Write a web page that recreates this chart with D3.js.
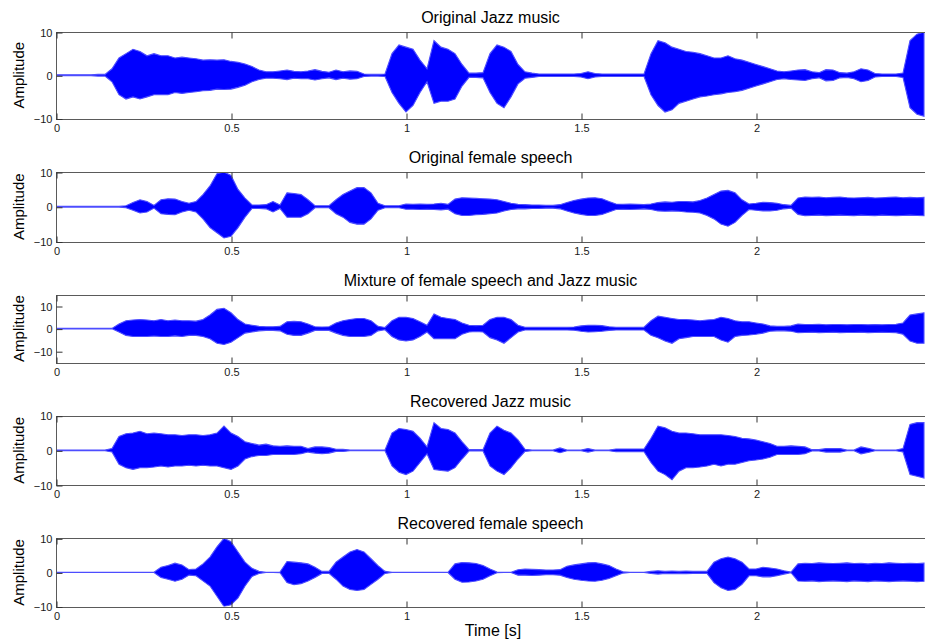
<!DOCTYPE html>
<html>
<head>
<meta charset="utf-8">
<script src="https://cdn.jsdelivr.net/npm/d3@7"></script>
<style>
  html, body { margin: 0; padding: 0; background: #fff; }
  svg { display: block; font-family: Arial, "Liberation Sans", Helvetica, sans-serif; }
</style>
</head>
<body>
<svg id="chart" width="925" height="640"></svg>
<script>
// Envelope of each signal: upper and lower peak amplitude every 20 ms (0 .. 2.48 s)
const sampleStep = 0.02;

const jazzUpper = [0.1,0.1,0.1,0.1,0.1,0.1,0.2,0.2,1.5,4.0,5.0,6.0,5.5,4.5,5.0,4.5,4.5,4.0,4.2,4.0,3.8,3.5,3.6,3.5,3.6,3.2,3.0,2.6,2.0,1.2,0.8,0.8,1.0,1.2,0.9,0.8,1.0,1.3,0.9,0.7,1.2,0.8,1.0,0.9,0.3,0.2,0.2,0.3,5.0,7.0,6.5,6.0,3.5,1.5,8.0,6.5,6.0,5.0,2.5,0.5,0.5,0.6,5.0,7.0,6.5,5.5,2.5,0.8,0.5,0.3,0.3,0.3,0.3,0.3,0.3,0.4,0.8,0.4,0.3,0.3,0.3,0.3,0.3,0.3,0.3,5.0,8.0,7.5,6.5,6.0,5.5,5.3,5.0,4.5,4.0,4.0,4.5,3.8,3.5,3.0,2.5,2.0,1.5,1.0,0.8,1.0,1.2,1.3,0.8,0.6,1.3,1.2,0.6,0.5,0.8,1.5,1.2,0.4,0.3,0.3,0.3,0.5,8.0,9.5,10];
const jazzLower = [-0.1,-0.1,-0.1,-0.1,-0.1,-0.1,-0.2,-0.2,-1.5,-4.5,-5.5,-5.0,-5.5,-5.0,-4.5,-4.5,-4.5,-4.0,-4.2,-4.0,-3.8,-3.6,-3.5,-3.2,-3.3,-3.2,-2.8,-2.3,-1.5,-1.0,-0.7,-0.7,-0.8,-1.0,-0.7,-0.8,-0.8,-1.1,-0.8,-0.6,-1.0,-0.7,-0.9,-0.8,-0.3,-0.2,-0.2,-0.3,-4.0,-6.5,-8.5,-7.0,-4.0,-1.5,-6.5,-6.0,-6.0,-5.5,-2.5,-0.5,-0.5,-0.6,-4.0,-6.5,-7.5,-5.0,-2.0,-0.7,-0.5,-0.3,-0.3,-0.3,-0.3,-0.3,-0.3,-0.4,-0.8,-0.4,-0.3,-0.3,-0.3,-0.3,-0.3,-0.3,-0.3,-4.5,-7.0,-8.5,-8.0,-6.5,-6.0,-5.5,-5.0,-4.8,-4.5,-4.3,-4.0,-3.8,-3.5,-3.0,-2.5,-2.0,-1.5,-1.0,-0.8,-1.0,-1.1,-1.2,-0.8,-0.6,-1.3,-1.2,-0.6,-0.5,-0.8,-1.5,-1.2,-0.4,-0.3,-0.3,-0.3,-0.5,-7.5,-9.0,-9.5];

const speechUpper = [0.1,0.1,0.1,0.1,0.1,0.1,0.1,0.1,0.1,0.1,0.3,1.2,2.0,1.5,0.4,2.0,2.3,2.2,1.5,1.0,1.5,3.5,6.0,9.5,10,9.0,5.0,2.5,0.5,0.5,0.6,1.5,0.5,4.0,3.8,3.5,2.0,0.3,0.3,0.3,2.0,3.5,4.5,5.5,5.5,4.0,1.0,0.3,0.3,0.3,0.8,0.7,0.8,0.7,0.8,1.0,0.7,2.2,2.6,2.5,2.4,2.3,2.2,2.0,1.5,1.0,0.7,0.6,0.5,0.5,0.4,0.4,0.6,1.2,1.8,2.2,2.5,2.6,2.3,1.5,0.8,0.7,0.8,0.7,0.6,0.8,1.2,1.4,1.3,1.5,1.5,1.4,1.8,2.5,3.5,4.5,4.7,4.0,2.0,0.8,1.0,1.3,1.2,1.0,0.6,0.4,2.5,2.8,2.7,2.8,2.6,2.7,2.8,2.6,2.5,2.6,2.7,2.5,2.6,2.7,2.8,2.6,2.7,2.6,2.7];
const speechLower = [-0.1,-0.1,-0.1,-0.1,-0.1,-0.1,-0.1,-0.1,-0.1,-0.1,-0.3,-1.0,-1.8,-1.5,-0.4,-2.0,-2.2,-2.3,-1.5,-1.0,-1.5,-3.5,-6.0,-7.5,-9.0,-8.5,-6.0,-3.0,-0.5,-0.5,-0.6,-1.5,-0.5,-3.0,-3.0,-3.0,-2.0,-0.3,-0.3,-0.3,-2.0,-3.0,-4.5,-5.0,-5.0,-3.5,-1.0,-0.3,-0.3,-0.3,-0.7,-0.7,-0.8,-0.7,-0.8,-0.9,-0.7,-2.0,-2.5,-2.5,-2.3,-2.2,-2.0,-1.8,-1.2,-0.8,-0.6,-0.6,-0.5,-0.5,-0.4,-0.4,-0.6,-1.2,-1.8,-2.2,-2.5,-2.5,-2.2,-1.5,-0.8,-0.7,-0.8,-0.7,-0.6,-0.8,-1.2,-1.3,-1.2,-1.3,-1.5,-1.6,-1.8,-2.5,-3.5,-5.0,-5.6,-4.5,-2.5,-0.8,-1.0,-1.2,-1.2,-1.0,-0.6,-0.4,-2.2,-2.6,-2.5,-2.4,-2.6,-2.5,-2.4,-2.5,-2.6,-2.4,-2.5,-2.6,-2.4,-2.5,-2.6,-2.5,-2.4,-2.5,-2.6];

const mixUpper = [0.1,0.1,0.1,0.1,0.1,0.1,0.1,0.1,0.1,2.0,3.5,3.8,4.0,3.8,3.5,4.0,3.5,3.8,3.5,3.5,3.3,4.0,6.0,8.5,9.0,7.0,4.0,2.0,1.5,1.0,0.8,0.8,1.0,3.0,3.2,3.0,2.0,0.8,0.7,0.8,2.5,3.5,4.0,4.5,4.5,3.5,1.0,0.5,3.5,5.0,5.0,4.5,3.0,1.5,6.5,5.0,4.5,4.0,2.5,1.5,1.3,1.5,4.0,5.0,5.0,4.0,1.5,0.6,0.6,0.6,0.6,0.6,0.6,0.6,0.7,1.2,1.5,1.5,1.3,0.8,0.6,0.6,0.6,0.6,0.6,3.5,5.5,5.0,4.5,4.0,4.0,3.8,3.5,3.8,4.0,5.0,4.5,3.5,3.0,3.0,2.5,2.0,1.2,1.0,1.0,1.2,2.0,1.8,1.8,1.9,1.7,1.8,1.8,1.7,1.8,1.8,1.7,1.8,1.7,1.8,1.9,2.5,6.0,6.5,7.0];
const mixLower = [-0.1,-0.1,-0.1,-0.1,-0.1,-0.1,-0.1,-0.1,-0.1,-1.5,-3.0,-3.5,-3.5,-3.5,-3.3,-3.5,-3.5,-3.2,-3.5,-3.0,-3.0,-3.5,-4.5,-6.5,-7.0,-6.0,-4.0,-2.0,-1.5,-1.0,-0.8,-0.8,-1.0,-2.5,-3.0,-3.0,-2.0,-0.8,-0.7,-0.8,-2.0,-3.0,-3.5,-3.5,-3.5,-3.0,-1.0,-0.5,-3.5,-5.0,-5.5,-5.0,-3.5,-1.5,-4.5,-4.5,-4.5,-4.5,-2.5,-1.5,-1.3,-1.5,-4.0,-5.0,-6.5,-4.0,-1.5,-0.6,-0.6,-0.6,-0.6,-0.6,-0.6,-0.6,-0.7,-1.2,-1.5,-1.4,-1.2,-0.8,-0.6,-0.6,-0.6,-0.6,-0.6,-3.0,-4.0,-5.5,-6.5,-4.5,-4.0,-3.5,-3.5,-3.5,-3.5,-5.0,-6.0,-3.5,-3.0,-2.8,-2.5,-2.0,-1.2,-1.0,-1.0,-1.2,-1.8,-1.7,-1.6,-1.8,-1.7,-1.6,-1.8,-1.7,-1.7,-1.6,-1.8,-1.7,-1.6,-1.7,-1.8,-2.5,-5.5,-6.5,-6.5];

const recJazzUpper = [0.1,0.1,0.1,0.1,0.1,0.1,0.1,0.1,0.5,4.0,4.8,5.0,5.5,4.8,5.0,4.8,4.5,4.5,4.3,4.5,4.5,4.3,4.5,5.0,7.0,5.0,4.0,2.5,2.0,1.5,1.8,1.3,1.2,1.3,1.2,1.2,0.5,1.0,1.0,0.8,0.3,0.3,0.1,0.1,0.1,0.1,0.1,0.1,5.0,6.3,6.0,5.5,3.5,1.0,8.0,6.3,6.0,5.0,2.5,0.2,0.2,0.2,5.0,7.0,5.8,5.0,3.0,0.3,0.1,0.1,0.1,0.1,0.7,0.1,0.1,0.1,0.5,0.1,0.1,0.1,0.4,0.4,0.4,0.4,0.4,3.5,7.0,6.5,5.5,5.0,5.0,4.8,4.5,4.5,4.5,4.5,4.3,4.0,3.5,3.3,3.0,2.5,2.0,1.2,1.2,1.3,1.2,1.0,0.2,0.2,0.5,0.5,0.5,0.1,0.1,1.0,0.6,0.1,0.1,0.1,0.1,0.5,7.5,8.0,8.0];
const recJazzLower = [-0.1,-0.1,-0.1,-0.1,-0.1,-0.1,-0.1,-0.1,-0.5,-4.0,-5.0,-5.5,-5.0,-5.0,-4.8,-4.5,-4.8,-4.5,-4.5,-4.3,-4.5,-4.3,-4.5,-4.5,-5.0,-5.5,-4.5,-2.5,-1.8,-1.5,-1.5,-1.2,-1.2,-1.2,-1.2,-1.0,-0.5,-0.8,-1.0,-0.8,-0.3,-0.3,-0.1,-0.1,-0.1,-0.1,-0.1,-0.1,-4.5,-6.3,-7.0,-6.0,-3.5,-1.0,-5.5,-5.8,-6.0,-5.0,-2.5,-0.2,-0.2,-0.2,-4.5,-6.0,-7.0,-5.0,-2.5,-0.3,-0.1,-0.1,-0.1,-0.1,-0.7,-0.1,-0.1,-0.1,-0.5,-0.1,-0.1,-0.1,-0.4,-0.4,-0.4,-0.4,-0.4,-3.5,-6.0,-7.0,-8.5,-6.0,-5.0,-5.0,-4.8,-4.5,-4.0,-4.5,-4.0,-4.0,-3.5,-3.0,-2.8,-2.5,-2.0,-1.2,-1.2,-1.2,-1.2,-1.0,-0.2,-0.2,-0.5,-0.5,-0.5,-0.1,-0.1,-1.0,-0.6,-0.1,-0.1,-0.1,-0.1,-0.5,-7.0,-7.5,-8.0];

const recSpeechUpper = [0.05,0.05,0.05,0.05,0.05,0.05,0.05,0.05,0.05,0.05,0.05,0.05,0.05,0.05,0.05,1.5,2.0,2.7,2.2,0.8,1.0,2.5,4.5,7.5,10,9.0,6.0,3.0,1.2,0.3,0.05,0.05,0.1,3.2,3.0,2.8,2.5,1.5,0.3,0.3,3.0,4.5,6.0,6.7,6.0,4.0,2.0,0.3,0.05,0.05,0.05,0.05,0.05,0.05,0.05,0.05,0.05,2.5,2.9,2.8,2.6,2.0,1.0,0.1,0.05,0.05,0.8,1.0,0.9,0.8,0.7,0.7,0.8,1.8,2.2,2.5,2.8,2.9,2.5,2.0,1.0,0.2,0.05,0.05,0.05,0.3,0.5,0.3,0.4,0.3,0.4,0.3,0.3,0.3,3.0,4.0,4.5,4.0,3.0,1.0,1.0,1.5,1.3,1.0,0.5,0.1,2.5,2.7,2.6,2.8,2.7,2.6,2.7,2.8,2.6,2.7,2.5,2.7,2.6,2.8,2.7,2.6,2.7,2.6,2.7];
const recSpeechLower = [-0.05,-0.05,-0.05,-0.05,-0.05,-0.05,-0.05,-0.05,-0.05,-0.05,-0.05,-0.05,-0.05,-0.05,-0.05,-1.5,-2.0,-2.6,-2.0,-0.8,-1.0,-2.5,-4.0,-7.0,-10,-9.5,-7.5,-4.0,-1.2,-0.3,-0.05,-0.05,-0.1,-3.0,-3.6,-3.3,-2.5,-1.5,-0.3,-0.3,-2.0,-4.0,-5.0,-5.3,-5.0,-3.5,-2.0,-0.3,-0.05,-0.05,-0.05,-0.05,-0.05,-0.05,-0.05,-0.05,-0.05,-2.0,-2.9,-2.8,-2.5,-2.0,-1.0,-0.1,-0.05,-0.05,-0.8,-0.8,-0.9,-0.8,-0.7,-0.7,-0.8,-1.5,-2.0,-2.3,-2.5,-2.6,-2.3,-1.8,-1.0,-0.2,-0.05,-0.05,-0.05,-0.3,-0.5,-0.3,-0.4,-0.3,-0.4,-0.3,-0.3,-0.3,-3.0,-4.5,-5.3,-5.0,-3.5,-1.0,-1.0,-1.3,-1.3,-1.0,-0.5,-0.1,-2.5,-2.6,-2.5,-2.7,-2.6,-2.5,-2.6,-2.7,-2.5,-2.6,-2.7,-2.5,-2.6,-2.7,-2.6,-2.5,-2.6,-2.7,-2.6];

const titles = [
  "Original Jazz music",
  "Original female speech",
  "Mixture of female speech and Jazz music",
  "Recovered Jazz music",
  "Recovered female speech"
];
const xTickValues = [0, 0.5, 1, 1.5, 2];
const yTickValues = [-10, 0, 10];
const xLabel = "Time [s]";
const yLabel = "Amplitude";

const series = [
  { upper: jazzUpper, lower: jazzLower, limit: 10 },
  { upper: speechUpper, lower: speechLower, limit: 10 },
  { upper: mixUpper, lower: mixLower, limit: 15 },
  { upper: recJazzUpper, lower: recJazzLower, limit: 10 },
  { upper: recSpeechUpper, lower: recSpeechLower, limit: 10 }
];

// Vertical placement of the five stacked axes (top, bottom in px)
const axesBoxes = [[32, 118.5], [172, 241.5], [294.7, 362.5], [415.7, 485], [538.3, 606.5]];
const left = 56, right = 931;
const tickLen = 6;
const waveColor = "#0000ff";
const waveEdge = "#4d4dff";
const frameColor = "#5a5a5a";

const svg = d3.select("#chart");
const x = d3.scaleLinear().domain([0, 2.5]).range([left, right]);

series.forEach((s, i) => {
  const [top, bottom] = axesBoxes[i];
  const y = d3.scaleLinear().domain([-s.limit, s.limit]).range([bottom, top]);
  const g = svg.append("g");

  const clipId = "clip" + i;
  svg.append("clipPath").attr("id", clipId)
    .append("rect").attr("x", left).attr("y", top).attr("width", right - left).attr("height", bottom - top);

  const pts = s.upper.map((u, k) => ({ t: k * sampleStep, hi: u, lo: s.lower[k] }));
  const area = d3.area()
    .x(d => x(d.t))
    .y0(d => y(d.lo))
    .y1(d => y(d.hi));

  g.append("path")
    .datum(pts)
    .attr("clip-path", `url(#${clipId})`)
    .attr("d", area)
    .attr("fill", waveColor)
    .attr("stroke", waveEdge)
    .attr("stroke-width", 1.1)
    .attr("stroke-linejoin", "miter");

  // Frame
  g.append("rect")
    .attr("x", left + 0.5).attr("y", Math.round(top) + 0.5)
    .attr("width", right - left).attr("height", Math.round(bottom) - Math.round(top))
    .attr("fill", "none").attr("stroke", frameColor).attr("stroke-width", 1);

  // Bottom axis with inward ticks and labels
  const xb = g.append("g").attr("transform", `translate(0.5,${Math.round(bottom) + 0.5})`)
    .call(d3.axisBottom(x).tickValues(xTickValues).tickSize(-tickLen).tickPadding(5)
      .tickFormat(d3.format("~g")));
  xb.select(".domain").remove();
  // Top axis ticks (no labels)
  const xt = g.append("g").attr("transform", `translate(0.5,${Math.round(top) + 0.5})`)
    .call(d3.axisTop(x).tickValues(xTickValues).tickSize(-tickLen).tickFormat(""));
  xt.select(".domain").remove();
  // Left axis
  const yl = g.append("g").attr("transform", `translate(${left + 0.5},0.5)`)
    .call(d3.axisLeft(y).tickValues(yTickValues).tickSize(-tickLen).tickPadding(4));
  yl.select(".domain").remove();
  // Right axis ticks
  const yr = g.append("g").attr("transform", `translate(${right + 0.5},0.5)`)
    .call(d3.axisRight(y).tickValues(yTickValues).tickSize(-tickLen).tickFormat(""));
  yr.select(".domain").remove();

  g.selectAll(".tick line").attr("stroke", "#333");
  g.selectAll(".tick text").attr("fill", "#1a1a1a").attr("font-size", 11)
    .attr("font-family", "Arial, 'Liberation Sans', sans-serif");

  // Title
  g.append("text")
    .attr("x", (left + right) / 2 - 3).attr("y", top - 9)
    .attr("text-anchor", "middle")
    .attr("font-size", 16).attr("fill", "#000")
    .text(titles[i]);

  // Y label
  g.append("text")
    .attr("transform", `translate(24,${(top + bottom) / 2}) rotate(-90)`)
    .attr("text-anchor", "middle")
    .attr("font-size", 15).attr("fill", "#000")
    .text(yLabel);
});

svg.append("text")
  .attr("x", 493).attr("y", 636)
  .attr("text-anchor", "middle")
  .attr("font-size", 16).attr("fill", "#000")
  .text(xLabel);
</script>
</body>
</html>
